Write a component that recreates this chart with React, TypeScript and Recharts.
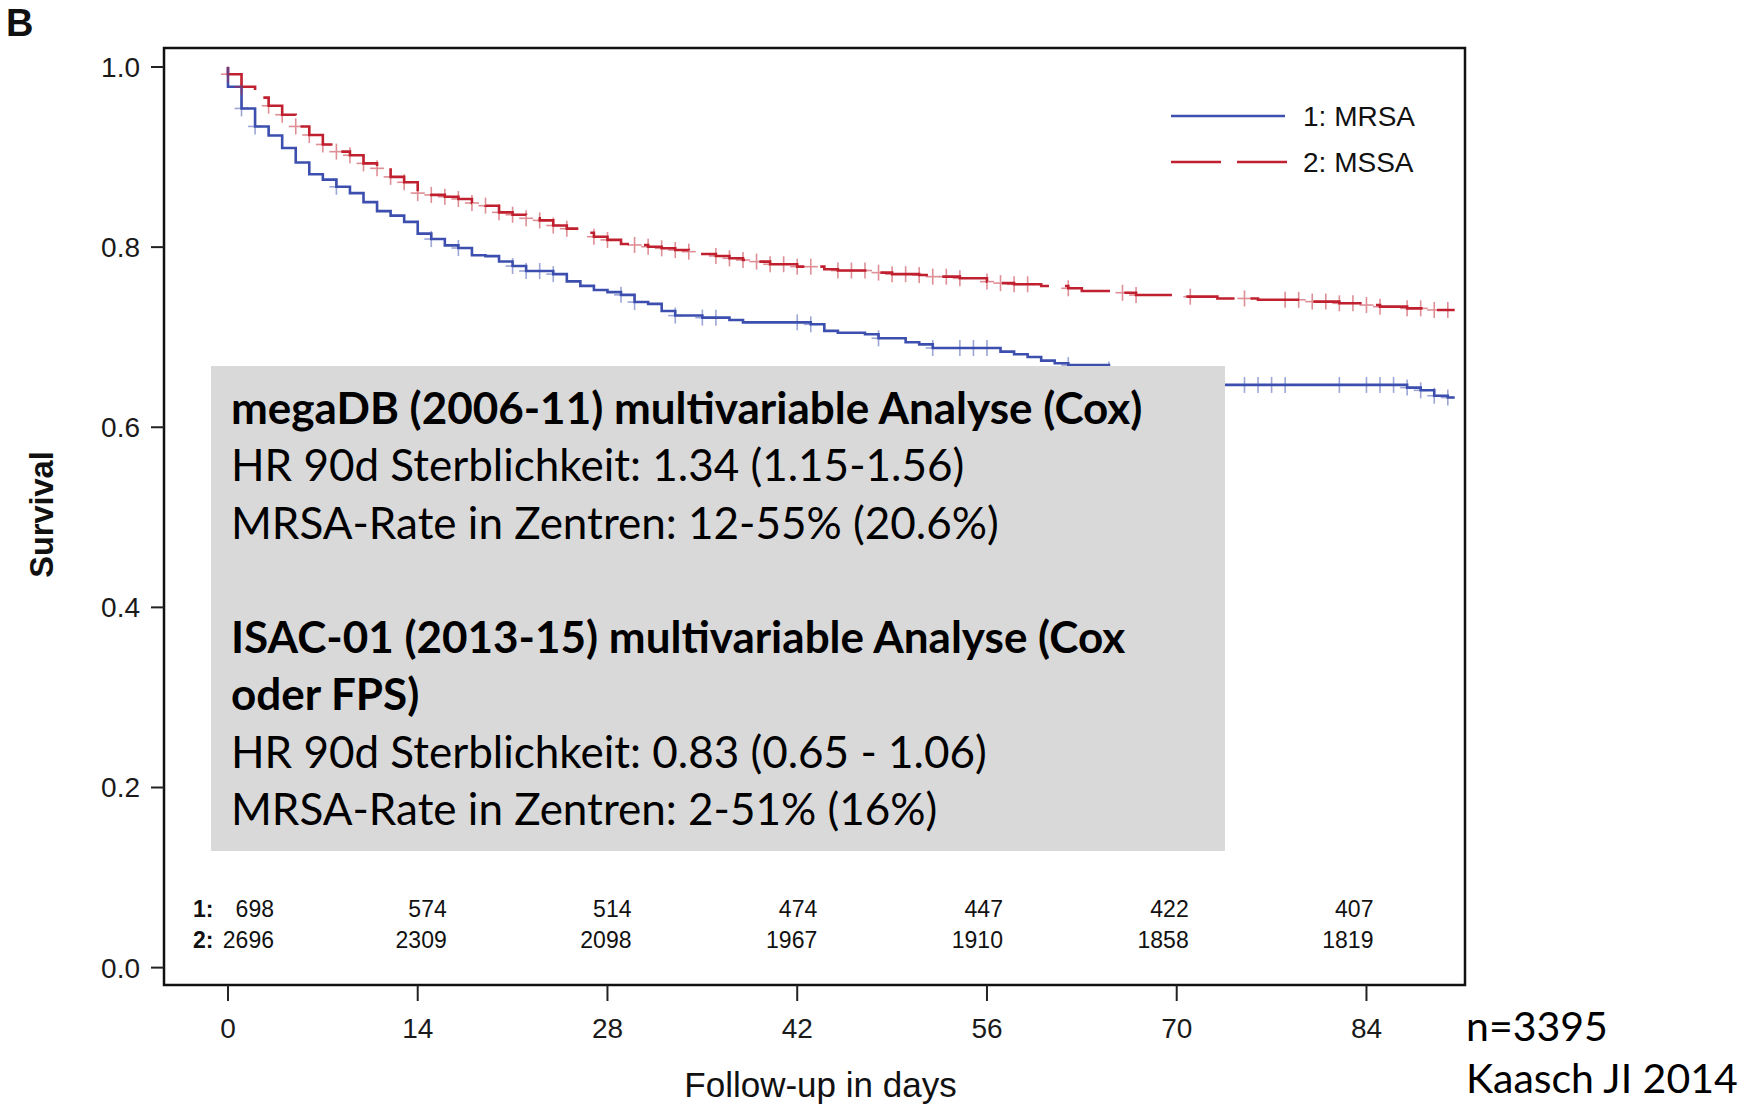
import React from "react";
import {
  ComposedChart,
  Line,
  Scatter,
  XAxis,
  YAxis,
  ReferenceArea,
  Legend,
} from "recharts";

// axis ticks
const dayTicks = [0, 14, 28, 42, 56, 70, 84];
const survTicks = [0, 0.2, 0.4, 0.6, 0.8, 1.0];

// Kaplan-Meier step points, MRSA (group 1)
const mrsaDays = [
  0, 0, 1, 2, 3, 4, 5, 6, 7, 8,
  9, 10, 11, 12, 13, 14, 15, 16, 17, 18,
  19, 20, 21, 22, 24, 25, 26, 27, 28, 29,
  30, 31, 32, 33, 35, 37, 38, 43, 44, 45,
  47, 48, 50, 51, 52, 57, 58, 59, 60, 61,
  62, 65, 66, 68, 70, 73, 87, 88, 89, 90,
  90.5,
];
const mrsaSurv = [
  1.0, 0.978, 0.954, 0.934, 0.924, 0.91, 0.894, 0.881, 0.875, 0.867,
  0.86, 0.85, 0.84, 0.835, 0.828, 0.815, 0.809, 0.802, 0.799, 0.791,
  0.79, 0.784, 0.779, 0.7735, 0.77, 0.762, 0.757, 0.7524, 0.75, 0.747,
  0.739, 0.737, 0.729, 0.724, 0.7217, 0.7191, 0.7165, 0.7143, 0.707, 0.705,
  0.7033, 0.6988, 0.6944, 0.692, 0.688, 0.684, 0.681, 0.678, 0.674, 0.671,
  0.669, 0.664, 0.658, 0.654, 0.651, 0.647, 0.644, 0.641, 0.635, 0.633,
  0.633,
];

// Kaplan-Meier step points, MSSA (group 2)
const mssaDays = [
  0, 0, 1, 2, 3, 4, 5, 6, 7, 8,
  9, 10, 11, 12, 13, 14, 15, 16, 17, 18,
  19, 20, 21, 22, 23, 24, 25, 26, 27, 28,
  29, 30, 31, 32, 33, 34, 35, 36, 37, 38,
  39, 40, 42, 44, 45, 48, 49, 51, 52, 54,
  56, 57, 58, 60, 62, 63, 66, 67, 70, 73,
  76, 80, 82, 84, 85, 87, 89, 90.5,
];
const mssaSurv = [
  1.0, 0.992, 0.978, 0.966, 0.957, 0.947, 0.934, 0.9245, 0.914, 0.906,
  0.902, 0.893, 0.8875, 0.878, 0.872, 0.86, 0.858, 0.856, 0.8535, 0.849,
  0.846, 0.8386, 0.836, 0.832, 0.8297, 0.824, 0.8205, 0.816, 0.8116, 0.808,
  0.8035, 0.8024, 0.8005, 0.7987, 0.7968, 0.795, 0.7924, 0.7902, 0.7876, 0.7857,
  0.7839, 0.781, 0.7783, 0.7754, 0.774, 0.7717, 0.77, 0.769, 0.7672, 0.7654,
  0.7617, 0.76, 0.7587, 0.7568, 0.7543, 0.7513, 0.7494, 0.7468, 0.745, 0.743,
  0.7415, 0.7395, 0.7376, 0.7357, 0.7339, 0.732, 0.7302, 0.7302,
];

// censored observations (days)
const mrsaCensorDays = [
  1, 2, 8, 15, 17, 21, 22, 23, 24, 29, 30, 33, 35, 36, 42, 43, 48, 52, 54,
  55, 56, 62, 65, 75, 76, 77, 78, 82, 84, 85, 86, 87, 88, 89, 90,
];
const mssaCensorDays = [
  0, 1, 3, 4, 5, 6, 7, 8, 9, 10, 11, 12, 13, 14, 15, 16, 17, 18, 19, 20, 21,
  22, 23, 24, 25, 27, 28, 30, 31, 32, 33, 34, 36, 37, 38, 39, 40, 41, 42, 43,
  45, 46, 47, 48, 49, 50, 51, 52, 53, 54, 56, 57, 58, 59, 62, 66, 67, 71, 75,
  78, 79, 80, 81, 82, 83, 84, 85, 87, 88, 89, 90,
];

// number at risk
const riskDays = [0, 14, 28, 42, 56, 70, 84];
const mrsaAtRisk = [698, 574, 514, 474, 447, 422, 407];
const mssaAtRisk = [2696, 2309, 2098, 1967, 1910, 1858, 1819];

const boxLines = [
  { text: "megaDB (2006-11) multivariable Analyse (Cox)", bold: true },
  { text: "HR 90d Sterblichkeit: 1.34 (1.15-1.56)", bold: false },
  { text: "MRSA-Rate in Zentren: 12-55% (20.6%)", bold: false },
  { text: "\u00a0", bold: false },
  { text: "ISAC-01 (2013-15) multivariable Analyse (Cox", bold: true },
  { text: "oder FPS)", bold: true },
  { text: "HR 90d Sterblichkeit: 0.83 (0.65 - 1.06)", bold: false },
  { text: "MRSA-Rate in Zentren: 2-51% (16%)", bold: false },
];

const BLUE = "#3d4fae";
const RED = "#c0202f";
const AXIS_FONT = "'Liberation Sans', Arial, sans-serif";
const NOTE_FONT = "Lato, 'Open Sans', sans-serif";

// layout bits (not data)
const X_DOMAIN: [number, number] = [-4.72, 91.27];
const Y_DOMAIN: [number, number] = [-0.0193, 1.0211];
const RISK_ROW_Y = [0.0651, 0.0306];
const RISK_DX = [46, 29, 24, 20, 16, 12, 7];

const toSteps = (days: number[], surv: number[]) =>
  days.map((d, i) => ({ day: d, s: surv[i] }));

const survAt = (days: number[], surv: number[], t: number) => {
  let v = surv[0];
  for (let i = 0; i < days.length; i++) if (days[i] <= t) v = surv[i];
  return v;
};

const mrsaData = toSteps(mrsaDays, mrsaSurv);
const mssaData = toSteps(mssaDays, mssaSurv);
const mrsaCensor = mrsaCensorDays.map((d) => ({ day: d, s: survAt(mrsaDays, mrsaSurv, d) }));
const mssaCensor = mssaCensorDays.map((d) => ({ day: d, s: survAt(mssaDays, mssaSurv, d) }));
const riskData = [
  ...riskDays.map((d, i) => ({ day: d, s: RISK_ROW_Y[0], n: mrsaAtRisk[i], col: i, row: 1 })),
  ...riskDays.map((d, i) => ({ day: d, s: RISK_ROW_Y[1], n: mssaAtRisk[i], col: i, row: 2 })),
];

const censorShape = (color: string) => (props: any) => {
  const { cx, cy } = props;
  if (cx == null || cy == null) return <g />;
  return (
    <g stroke={color} strokeWidth={1.6} opacity={0.5}>
      <line x1={cx - 7} x2={cx + 7} y1={cy} y2={cy} />
      <line x1={cx} x2={cx} y1={cy - 8} y2={cy + 8} />
    </g>
  );
};

const RiskCell = (props: any) => {
  const { cx, cy, payload } = props;
  if (cx == null || cy == null) return <g />;
  return (
    <g fontFamily={AXIS_FONT} fontSize={23} fill="#111">
      {payload.col === 0 && (
        <text x={cx - 35} y={cy} dominantBaseline="central" fontWeight="bold">
          {payload.row + ":"}
        </text>
      )}
      <text x={cx + RISK_DX[payload.col]} y={cy} textAnchor="end" dominantBaseline="central">
        {payload.n}
      </text>
    </g>
  );
};

const XTitle = (props: any) => {
  const vb = props.viewBox || { x: 164, y: 985, width: 1301, height: 119 };
  return (
    <text
      x={vb.x + vb.width / 2 + 6}
      y={vb.y + 99}
      textAnchor="middle"
      dominantBaseline="central"
      fontFamily={AXIS_FONT}
      fontSize={35}
      fill="#111"
    >
      Follow-up in days
    </text>
  );
};

const YTitle = (props: any) => {
  const vb = props.viewBox || { x: 0, y: 48, width: 164, height: 937 };
  const x = 42;
  const y = vb.y + vb.height / 2 - 2;
  return (
    <text
      x={x}
      y={y}
      transform={`rotate(-90, ${x}, ${y})`}
      textAnchor="middle"
      dominantBaseline="central"
      fontFamily={AXIS_FONT}
      fontSize={32.5}
      fontWeight="bold"
      fill="#111"
    >
      Survival
    </text>
  );
};

const LegendBox = () => (
  <svg width={300} height={90} style={{ overflow: "visible" }}>
    <line x1={0} x2={114} y1={20} y2={20} stroke={BLUE} strokeWidth={2.5} />
    <text x={132} y={20} dominantBaseline="central" fontFamily={AXIS_FONT} fontSize={28} fill="#111">
      1: MRSA
    </text>
    <line x1={0} x2={116} y1={66} y2={66} stroke={RED} strokeWidth={2.5} strokeDasharray="50 16" />
    <text x={132} y={66} dominantBaseline="central" fontFamily={AXIS_FONT} fontSize={28} fill="#111">
      2: MSSA
    </text>
  </svg>
);

const tickStyle = { fontFamily: AXIS_FONT, fontSize: 28, fill: "#1a1a1a" };

const App = () => {
  return (
    <div style={{ position: "absolute", left: 0, top: 0, width: 1752, height: 1104, background: "#fff", overflow: "hidden" }}>
      <div
        style={{
          position: "absolute",
          left: 6,
          top: 1,
          fontFamily: AXIS_FONT,
          fontWeight: "bold",
          fontSize: 38,
          lineHeight: "44px",
          color: "#111",
        }}
      >
        B
      </div>

      <ComposedChart
        width={1752}
        height={1104}
        margin={{ top: 48, right: 287, bottom: 0, left: 0 }}
      >
        <XAxis
          dataKey="day"
          type="number"
          domain={X_DOMAIN}
          ticks={dayTicks}
          allowDataOverflow
          height={119}
          axisLine={false}
          tickSize={16}
          tickMargin={17}
          tickLine={{ stroke: "#222", strokeWidth: 2 }}
          tick={tickStyle}
          label={<XTitle />}
        />
        <YAxis
          type="number"
          domain={Y_DOMAIN}
          ticks={survTicks}
          allowDataOverflow
          width={164}
          axisLine={false}
          tickSize={13}
          tickMargin={11}
          tickLine={{ stroke: "#222", strokeWidth: 2 }}
          tick={tickStyle}
          tickFormatter={(v: number) => v.toFixed(1)}
          label={<YTitle />}
        />
        <ReferenceArea
          x1={X_DOMAIN[0]}
          x2={X_DOMAIN[1]}
          y1={Y_DOMAIN[0]}
          y2={Y_DOMAIN[1]}
          fill="none"
          fillOpacity={0}
          stroke="#111"
          strokeWidth={2.5}
          ifOverflow="visible"
        />
        <Scatter data={mssaCensor} dataKey="s" shape={censorShape(RED)} isAnimationActive={false} />
        <Scatter data={mrsaCensor} dataKey="s" shape={censorShape(BLUE)} isAnimationActive={false} />
        <Line
          data={mssaData}
          dataKey="s"
          type="stepAfter"
          stroke={RED}
          strokeWidth={2.6}
          strokeDasharray="50 16"
          dot={false}
          activeDot={false}
          isAnimationActive={false}
        />
        <Line
          data={mrsaData}
          dataKey="s"
          type="stepAfter"
          stroke={BLUE}
          strokeWidth={2.6}
          dot={false}
          activeDot={false}
          isAnimationActive={false}
        />
        <Scatter data={riskData} dataKey="s" shape={<RiskCell />} isAnimationActive={false} />
        <Legend
          layout="vertical"
          align="center"
          verticalAlign="middle"
          content={<LegendBox />}
          wrapperStyle={{ position: "absolute", left: 1171, top: 96, width: 300, height: 90 }}
        />
      </ComposedChart>

      <div
        style={{
          position: "absolute",
          left: 211,
          top: 366,
          width: 1014,
          height: 485,
          background: "#d9d9d9",
          boxSizing: "border-box",
          padding: "13px 0 0 20px",
          fontFamily: NOTE_FONT,
          fontSize: 44,
          lineHeight: "57.3px",
          color: "#000",
          whiteSpace: "nowrap",
        }}
      >
        {boxLines.map((l, i) => (
          <div key={i} style={{ fontWeight: l.bold ? 700 : 400 }}>
            {l.text}
          </div>
        ))}
      </div>

      <div
        style={{
          position: "absolute",
          left: 1466,
          top: 1004,
          fontFamily: NOTE_FONT,
          fontSize: 41,
          lineHeight: "44px",
          color: "#000",
          whiteSpace: "nowrap",
        }}
      >
        n=3395
      </div>
      <div
        style={{
          position: "absolute",
          left: 1466,
          top: 1056,
          fontFamily: NOTE_FONT,
          fontSize: 41,
          lineHeight: "44px",
          color: "#000",
          whiteSpace: "nowrap",
        }}
      >
        Kaasch JI 2014
      </div>
    </div>
  );
};

export default App;
